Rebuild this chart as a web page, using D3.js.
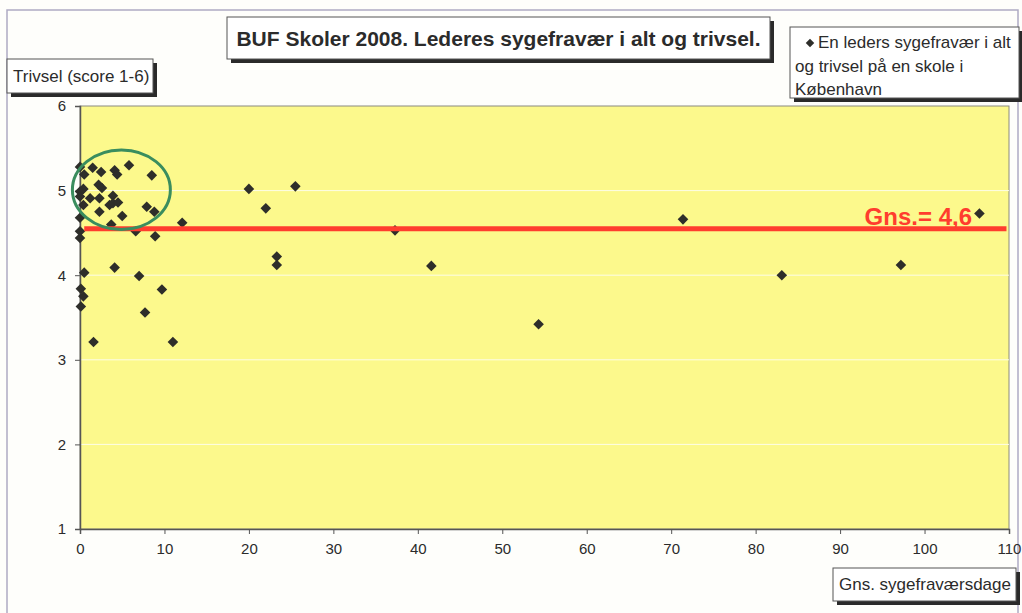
<!DOCTYPE html>
<html>
<head>
<meta charset="utf-8">
<script src="https://cdn.jsdelivr.net/npm/d3@7"></script>
<style>
  body { margin: 0; background: #fefefb; }
  text { font-family: "Liberation Sans", Arial, sans-serif; }
</style>
</head>
<body>
<div id="chart"></div>
<script>
// sick days per leader (x) and wellbeing score (y), one point per school
const sickDays = [
  0, 1.5, 0.5, 2.5, 4.1, 4.4, 5.8, 8.5,
  0.4, 0, 2.2, 2.6, 0, 1.2, 2.3, 0.4,
  3.9, 3.5, 3.9, 4.5, 2.3, 5.0, 7.9, 8.8,
  0, 3.7, 0, 0, 6.6, 8.9, 12.1,
  0.5, 4.1, 7.0, 0.1, 0.4, 9.7, 0.1, 7.7, 1.6, 11.0,
  20.0, 25.5, 22.0, 23.3, 23.3, 37.3, 41.6, 54.3, 71.4, 83.1, 97.2, 106.5
]
const wellbeing = [
  5.28, 5.27, 5.19, 5.22, 5.24, 5.19, 5.30, 5.18,
  5.02, 4.99, 5.07, 5.03, 4.93, 4.91, 4.91, 4.83,
  4.94, 4.83, 4.85, 4.86, 4.75, 4.70, 4.81, 4.75,
  4.68, 4.60, 4.52, 4.44, 4.52, 4.46, 4.62,
  4.03, 4.09, 3.99, 3.84, 3.75, 3.83, 3.63, 3.56, 3.21, 3.21,
  5.02, 5.05, 4.79, 4.22, 4.12, 4.53, 4.11, 3.42, 4.66, 4.00, 4.12, 4.73
]

const xTicks = [0, 10, 20, 30, 40, 50, 60, 70, 80, 90, 100, 110]
const yTicks = [1, 2, 3, 4, 5, 6]

const meanValue = 4.55
const meanSpan = [0.5, 109.7]
const meanLabel = "Gns.= 4,6"

// highlighted cluster: centre and radii in data units
const ringCenter = [4.9, 5.01]
const ringRadius = [5.8, 0.47]

const titleText = "BUF Skoler 2008. Lederes sygefravær i alt og trivsel."
const legendLines = ["En leders sygefravær i alt", "og trivsel på en skole i", "København"]
const yLabel = "Trivsel (score 1-6)"
const xLabel = "Gns. sygefraværsdage"

const width = 1022
const height = 613

const svg = d3.select("#chart")
  .append("svg")
    .attr("width", width)
    .attr("height", height)

// outer chart frame
svg.append("rect")
  .attr("x", 7).attr("y", 10)
  .attr("width", 1011).attr("height", 640)
  .attr("fill", "none")
  .attr("stroke", "#aeaac4")
  .attr("stroke-width", 1.5)

const x = d3.scaleLinear().domain([0, 110]).range([80, 1009])
const y = d3.scaleLinear().domain([1, 6]).range([529, 106])

// plot area
svg.append("rect")
  .attr("x", x(0)).attr("y", y(6))
  .attr("width", x(110) - x(0)).attr("height", y(1) - y(6))
  .attr("fill", "#fcf98c")
  .attr("stroke", "#8a8a80")

svg.append("g")
  .selectAll("line")
  .data(yTicks.slice(1, -1))
  .join("line")
    .attr("x1", x(0)).attr("x2", x(110))
    .attr("y1", d => y(d)).attr("y2", d => y(d))
    .attr("stroke", "#fdfde8")
    .attr("stroke-width", 1)

const xAxis = svg.append("g")
  .attr("transform", "translate(0," + y(1) + ")")
  .call(d3.axisBottom(x).tickValues(xTicks).tickFormat(d3.format("d")).tickSize(5).tickPadding(9))
const yAxis = svg.append("g")
  .attr("transform", "translate(" + x(0) + ",0)")
  .call(d3.axisLeft(y).tickValues(yTicks).tickFormat(d3.format("d")).tickSize(5).tickPadding(9))

;[xAxis, yAxis].forEach(g => {
  g.select(".domain").attr("stroke", "#555").attr("stroke-width", 1.5)
  g.selectAll(".tick line").attr("stroke", "#555")
  g.selectAll(".tick text")
    .attr("font-size", "15px")
    .attr("fill", "#2b2b2b")
    .style("font-family", "'Liberation Sans', Arial, sans-serif")
})

// points
const points = sickDays.map((d, i) => ({x: d, y: wellbeing[i]}))
const diamond = d3.symbol().type(d3.symbolSquare).size(56)

svg.append("g")
  .selectAll("path")
  .data(points)
  .join("path")
    .attr("d", diamond)
    .attr("transform", d => "translate(" + x(d.x) + "," + y(d.y) + ") rotate(45)")
    .attr("fill", "#2e2e2a")

// average line
svg.append("line")
  .attr("x1", x(meanSpan[0])).attr("x2", x(meanSpan[1]))
  .attr("y1", y(meanValue)).attr("y2", y(meanValue))
  .attr("stroke", "#ff3d2e")
  .attr("stroke-width", 5)

svg.append("text")
  .attr("x", 972)
  .attr("y", y(meanValue) - 4)
  .attr("text-anchor", "end")
  .attr("font-size", "24px")
  .attr("font-weight", "bold")
  .attr("fill", "#ff3d2e")
  .text(meanLabel)

svg.append("ellipse")
  .attr("cx", x(ringCenter[0])).attr("cy", y(ringCenter[1]))
  .attr("rx", x(ringRadius[0]) - x(0))
  .attr("ry", y(6 - ringRadius[1]) - y(6))
  .attr("fill", "none")
  .attr("stroke", "#3a8d5e")
  .attr("stroke-width", 3)

// boxes with a drop shadow
function shadowBox(x0, y0, w, h) {
  svg.append("rect")
    .attr("x", x0 + 4).attr("y", y0 + 4)
    .attr("width", w).attr("height", h)
    .attr("fill", "#2a2a2a")
  svg.append("rect")
    .attr("x", x0).attr("y", y0)
    .attr("width", w).attr("height", h)
    .attr("fill", "#fff")
    .attr("stroke", "#555")
}

shadowBox(227, 17, 543, 42)
svg.append("text")
  .attr("x", 498.5).attr("y", 46)
  .attr("text-anchor", "middle")
  .attr("font-size", "21px")
  .attr("font-weight", "bold")
  .attr("fill", "#2b2b2b")
  .text(titleText)

shadowBox(790, 27, 229, 71)
svg.append("path")
  .attr("d", d3.symbol().type(d3.symbolSquare).size(36))
  .attr("transform", "translate(810,43) rotate(45)")
  .attr("fill", "#2e2e2a")
svg.append("g")
  .selectAll("text")
  .data(legendLines)
  .join("text")
    .attr("x", (d, i) => i === 0 ? 818 : 795)
    .attr("y", (d, i) => 48 + i * 23.5)
    .attr("font-size", "17px")
    .attr("fill", "#2b2b2b")
    .text(d => d)

shadowBox(7, 59, 146, 34)
svg.append("text")
  .attr("x", 13).attr("y", 82)
  .attr("font-size", "17px")
  .attr("fill", "#2b2b2b")
  .text(yLabel)

shadowBox(833, 568, 183, 33)
svg.append("text")
  .attr("x", 839).attr("y", 590)
  .attr("font-size", "17px")
  .attr("fill", "#2b2b2b")
  .text(xLabel)
</script>
</body>
</html>
